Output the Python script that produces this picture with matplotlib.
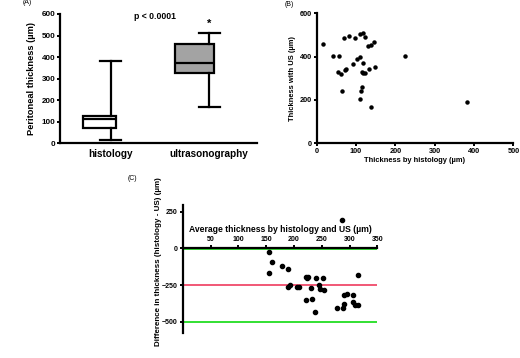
import matplotlib
matplotlib.use("Agg")
import matplotlib.pyplot as plt

plt.rcParams['font.family'] = ['Liberation Sans', 'DejaVu Sans']
plt.rcParams['font.weight'] = 'bold'

W, H = 520, 358

# (A) box summaries: whisker low, Q1, median, Q3, whisker high
groups = ["histology", "ultrasonography"]
whislo = [17, 170]
q1 = [70, 328]
med = [113, 371]
q3 = [127, 461]
whishi = [383, 510]
box_fill = ["white", "#a3a3a3"]

# (B) paired thickness measurements (µm)
hist_um = [15, 69, 81, 97, 109, 119, 124, 130, 138, 146, 42, 57, 224, 110, 103,
           93, 119, 149, 134, 53, 63, 71, 75, 119, 123, 116, 65, 115, 113, 110,
           139, 383]
us_um = [458, 484, 497, 484, 503, 509, 492, 449, 452, 466, 401, 404, 404, 400, 388,
         365, 369, 353, 341, 328, 320, 338, 344, 326, 323, 330, 241, 261, 240, 206,
         168, 190]

# (C) Bland-Altman: mean of methods vs difference (histology - US)
ba_mean = [156, 160, 156, 178, 190, 221, 226, 224, 240, 253, 193, 190, 206, 210,
           230, 246, 247, 255, 222, 232, 238, 315, 290, 295, 307, 307, 309, 315,
           291, 289, 277, 286]
ba_diff = [-28, -93, -171, -120, -143, -196, -198, -204, -205, -200, -251, -267,
           -262, -267, -268, -252, -277, -286, -355, -343, -436, -180, -316, -312,
           -318, -368, -387, -387, -382, -409, -409, 193]
bias = -253
limits = [-5, -501]


def rect(l, t, r, b):
    return [l / W, 1 - b / H, (r - l) / W, (b - t) / H]


fig = plt.figure(figsize=(5.2, 3.58), dpi=100)

# ---------------- (A) ----------------
axA = fig.add_axes(rect(60, 14, 257, 143.3))
whisk_pos = [1, 2]
box_pos = [0.885, 1.85]
box_w = [0.34, 0.40]
cap_w = 0.21
stats = [dict(whislo=whislo[i], q1=q1[i], med=med[i], q3=q3[i], whishi=whishi[i],
              label=groups[i]) for i in range(2)]
res = axA.bxp(stats, positions=box_pos, widths=box_w, patch_artist=True,
              showfliers=False, manage_ticks=False,
              boxprops=dict(linewidth=1.6, edgecolor='black'),
              medianprops=dict(color='black', linewidth=1.6),
              whiskerprops=dict(color='black', linewidth=1.6),
              capprops=dict(color='black', linewidth=1.6))
for i, patch in enumerate(res['boxes']):
    patch.set_facecolor(box_fill[i])
for j, line in enumerate(res['whiskers']):
    xp = whisk_pos[j // 2]
    line.set_xdata([xp, xp])
for j, line in enumerate(res['caps']):
    xp = whisk_pos[j // 2]
    line.set_xdata([xp - cap_w / 2, xp + cap_w / 2])

axA.set_xlim(0.486, 2.484)
axA.set_ylim(0, 600)
axA.set_yticks(range(0, 601, 100))
axA.set_xticks(whisk_pos)
axA.set_xticklabels(groups, fontsize=7.2, fontweight='bold')
axA.tick_params(axis='x', length=0, pad=4)
axA.tick_params(axis='y', length=2.5, width=1.4, labelsize=5.8, pad=1)
axA.set_ylabel("Peritoneal thickness (µm)", fontsize=6.7, fontweight='bold', labelpad=4)
for s in ['top', 'right']:
    axA.spines[s].set_visible(False)
for s in ['left', 'bottom']:
    axA.spines[s].set_linewidth(1.6)
axA.text(1.45, 590, "p < 0.0001", fontsize=6.2, fontweight='bold', ha='center', va='center')
axA.text(whisk_pos[1], 555, "*", fontsize=8, fontweight='bold', ha='center', va='center')

# ---------------- (B) ----------------
axB = fig.add_axes(rect(316.7, 13.3, 513.3, 143.3))
axB.plot(hist_um, us_um, 'o', color='black', markersize=2.2, linestyle='none')
axB.set_xlim(0, 500)
axB.set_ylim(0, 600)
axB.set_xticks(range(0, 501, 100))
axB.set_yticks(range(0, 601, 200))
axB.tick_params(length=2.5, width=1.4, labelsize=5.3, pad=1)
axB.set_xlabel("Thickness by histology (µm)", fontsize=5.4, fontweight='bold', labelpad=1)
axB.set_ylabel("Thickness with US (µm)", fontsize=5.4, fontweight='bold', labelpad=3)
for s in ['top', 'right']:
    axB.spines[s].set_visible(False)
for s in ['left', 'bottom']:
    axB.spines[s].set_linewidth(1.6)

# ---------------- (C) ----------------
axC = fig.add_axes(rect(182.7, 205, 377.3, 333))
axC.axhline(bias, color='#f04a6a', linewidth=1.3, zorder=1)
for lim in limits:
    axC.axhline(lim, color='#22dd22', linewidth=1.3, zorder=1)
axC.plot(ba_mean, ba_diff, 'o', color='black', markersize=3.0, linestyle='none', zorder=3)
axC.set_xlim(0, 350)
axC.set_ylim(-577, 295)
axC.spines['bottom'].set_visible(False)
axC.spines['right'].set_visible(False)
axC.spines['top'].set_position(('data', 0))
axC.spines['top'].set_linewidth(1.6)
axC.spines['top'].set_zorder(2)
axC.spines['left'].set_linewidth(1.6)
axC.xaxis.tick_top()
axC.xaxis.set_label_position('top')
axC.set_xticks(range(50, 351, 50))
axC.set_yticks([250, 0, -250, -500])
axC.tick_params(length=2.5, width=1.4, labelsize=5.0, pad=1)
axC.set_xlabel("Average thickness by histology and US (µm)", fontsize=6.2,
               fontweight='bold', labelpad=3)
fig.text(158 / W, 1 - 177 / H, "Difference in thickness (histology - US) (µm)",
         rotation=90, fontsize=5.8, fontweight='bold', ha='center', va='top')

# panel letters
fig.text(27 / W, 1 - 3 / H, "(A)", fontsize=5, fontweight='normal', ha='center', va='center')
fig.text(289 / W, 1 - 4.5 / H, "(B)", fontsize=5, fontweight='normal', ha='center', va='center')
fig.text(132 / W, 1 - 179 / H, "(C)", fontsize=5, fontweight='normal', ha='center', va='center')

fig.savefig("out.png", dpi=100)
